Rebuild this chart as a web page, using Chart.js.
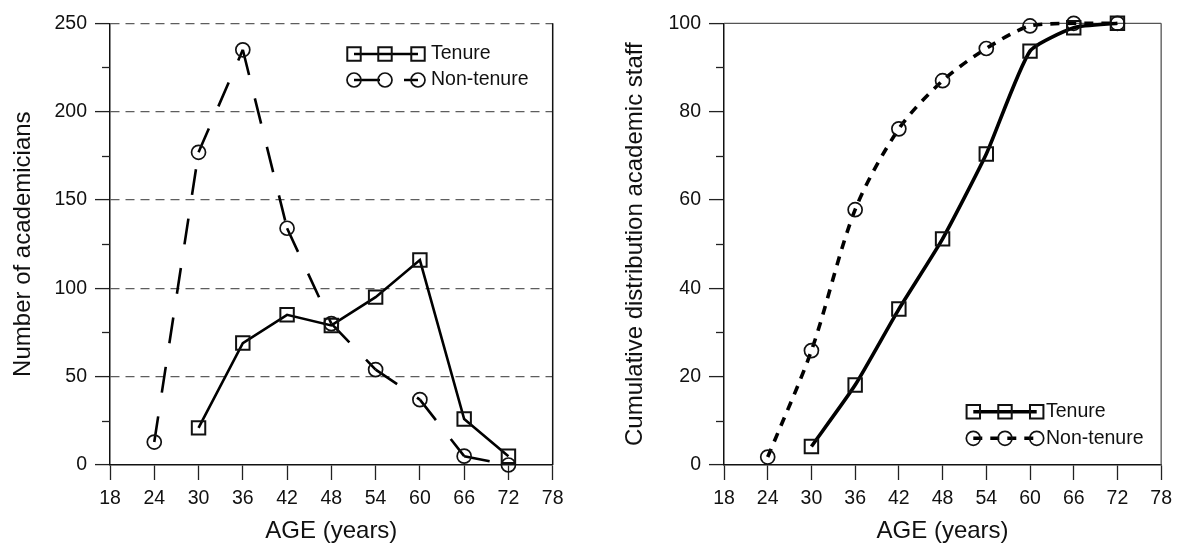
<!DOCTYPE html>
<html>
<head>
<meta charset="utf-8">
<script src="https://cdn.jsdelivr.net/npm/chart.js@4/dist/chart.umd.min.js"></script>
<style>
  html, body { margin: 0; padding: 0; background: #fff; }
  #wrap { position: relative; width: 1179px; height: 550px; }
  .panel { position: absolute; top: 0; height: 550px; }
  #left { left: 0; width: 590px; }
  #right { left: 590px; width: 589px; }
</style>
</head>
<body>
<div id="wrap">
  <div class="panel" id="left"><canvas id="countChart"></canvas></div>
  <div class="panel" id="right"><canvas id="cumChart"></canvas></div>
</div>
<script>
// Age groups (years)
const nonTenureAges = [24, 30, 36, 42, 48, 54, 60, 66, 72];
const tenureAges = [30, 36, 42, 48, 54, 60, 66, 72];

// Number of academicians per age group
const tenureCount = [21, 69, 85, 79, 95, 116, 26, 5];
const nonTenureCount = [13, 177, 235, 134, 80, 54, 37, 5, 0];

// Cumulative distribution (%)
const tenureCumulative = [4.2, 18.1, 35.3, 51.2, 70.4, 93.7, 99, 100];
const nonTenureCumulative = [1.8, 25.9, 57.8, 76.1, 87, 94.3, 99.4, 100, 100];

const seriesNames = ['Tenure', 'Non-tenure'];
const ageAxis = { min: 18, max: 78, step: 6 };
const countAxis = { min: 0, max: 250, major: 50, minor: 25 };
const cumAxis = { min: 0, max: 100, major: 20, minor: 10 };

const FONT = '"Liberation Sans", Arial, Helvetica, sans-serif';
const INK = '#111';

function points(xs, ys) {
  return xs.map((x, i) => ({ x: x, y: ys[i] }));
}

// Short tick marks between the labelled ones on the value axis
const minorTicksPlugin = {
  id: 'minorTicks',
  afterDraw(chart, args, opts) {
    if (!opts || !opts.step) return;
    const scale = chart.scales.y;
    const ctx = chart.ctx;
    const x0 = chart.chartArea.left;
    ctx.save();
    ctx.strokeStyle = opts.color;
    ctx.lineWidth = opts.width;
    for (let v = scale.min + opts.step; v < scale.max; v += opts.step) {
      if (Math.abs(v % opts.major) < 1e-9) continue;
      const y = Math.round(scale.getPixelForValue(v)) + 0.5;
      ctx.beginPath();
      ctx.moveTo(x0 - opts.length, y);
      ctx.lineTo(x0, y);
      ctx.stroke();
    }
    ctx.restore();
  }
};

// Plot frame on the sides that carry no axis
const framePlugin = {
  id: 'frame',
  beforeDatasetsDraw(chart, args, opts) {
    if (!opts || !opts.sides) return;
    const a = chart.chartArea;
    const ctx = chart.ctx;
    ctx.save();
    ctx.strokeStyle = opts.color;
    ctx.lineWidth = opts.width;
    ctx.beginPath();
    if (opts.sides.includes('right')) { ctx.moveTo(a.right, a.top); ctx.lineTo(a.right, a.bottom); }
    if (opts.sides.includes('top')) { ctx.moveTo(a.left, a.top); ctx.lineTo(a.right, a.top); }
    ctx.stroke();
    ctx.restore();
  }
};

function drawMarker(ctx, style, r, x, y) {
  ctx.beginPath();
  if (style === 'rect') {
    const s = r * Math.SQRT1_2;
    ctx.rect(x - s, y - s, 2 * s, 2 * s);
  } else {
    ctx.arc(x, y, r, 0, Math.PI * 2);
  }
  ctx.stroke();
}

// Legend: a line sample with three markers per series, followed by its name
const sampleLegendPlugin = {
  id: 'sampleLegend',
  afterDraw(chart, args, opts) {
    if (!opts || !opts.rows) return;
    const ctx = chart.ctx;
    ctx.save();
    chart.data.datasets.forEach((ds, i) => {
      const y = opts.rows[i];
      const xs = opts.markers;
      ctx.strokeStyle = ds.borderColor;
      ctx.lineWidth = ds.borderWidth;
      ctx.setLineDash(ds.borderDash || []);
      ctx.beginPath();
      ctx.moveTo(xs[0], y);
      ctx.lineTo(xs[xs.length - 1], y);
      ctx.stroke();
      ctx.setLineDash([]);
      ctx.strokeStyle = ds.pointBorderColor;
      ctx.lineWidth = ds.pointBorderWidth;
      xs.forEach(x => drawMarker(ctx, ds.pointStyle, ds.pointRadius, x, y));
      ctx.fillStyle = INK;
      ctx.font = opts.fontSize + 'px ' + FONT;
      ctx.textBaseline = 'middle';
      ctx.textAlign = 'left';
      ctx.fillText(ds.label, opts.textX, y);
    });
    ctx.restore();
  }
};

function ageScale() {
  return {
    type: 'linear',
    min: ageAxis.min,
    max: ageAxis.max,
    ticks: {
      stepSize: ageAxis.step, autoSkip: false, maxRotation: 0, padding: 7,
      color: INK, font: { family: FONT, size: 19.5 }
    },
    grid: { drawOnChartArea: false, drawTicks: true, tickLength: 15, tickColor: '#222', tickWidth: 1.3 },
    border: { display: true, color: INK, width: 1.5 },
    title: {
      display: true, text: 'AGE (years)', color: INK,
      font: { family: FONT, size: 24 }, padding: { top: 0, bottom: 4 }
    },
    afterFit(scale) { scale.height = 85; }
  };
}

function valueScale(axis, title, titlePad, width, dashedGrid) {
  return {
    type: 'linear',
    min: axis.min,
    max: axis.max,
    ticks: {
      stepSize: axis.major, padding: 8,
      color: INK, font: { family: FONT, size: 19.5 }
    },
    grid: {
      drawOnChartArea: dashedGrid,
      color: ctx => (ctx.tick && ctx.tick.value === 0) ? 'rgba(0,0,0,0)' : '#5e5e5e',
      lineWidth: 1.2,
      drawTicks: true, tickLength: 15, tickColor: '#222', tickWidth: 1.3
    },
    border: { display: true, color: INK, width: 1.5, dash: dashedGrid ? [9, 6] : [] },
    title: {
      display: true, text: title, color: INK,
      font: { family: FONT, size: 24 }, padding: { top: titlePad, bottom: 0 }
    },
    afterFit(scale) { scale.width = width; }
  };
}

function baseOptions(padding) {
  return {
    responsive: true,
    maintainAspectRatio: false,
    animation: false,
    layout: { padding: padding },
    plugins: { legend: { display: false }, tooltip: { enabled: false } }
  };
}

// Left panel: head count per age group
const countOptions = baseOptions({ top: 23.3, right: 37.3, left: 0, bottom: 0 });
countOptions.scales = {
  x: ageScale(),
  y: valueScale(countAxis, 'Number of academicians', 9, 110, true)
};
countOptions.plugins.minorTicks = { step: countAxis.minor, major: countAxis.major, length: 8, color: '#222', width: 1.3 };
countOptions.plugins.frame = { sides: ['right'], color: INK, width: 1.5 };
countOptions.plugins.sampleLegend = { markers: [354, 385, 418], rows: [54, 80], textX: 431, fontSize: 19.5 };

new Chart(document.getElementById('countChart'), {
  type: 'line',
  data: {
    datasets: [
      {
        label: seriesNames[0],
        data: points(tenureAges, tenureCount),
        borderColor: '#000', borderWidth: 2.6, tension: 0,
        pointStyle: 'rect', pointRadius: 9.5, pointBorderWidth: 2,
        pointBorderColor: INK, pointBackgroundColor: 'rgba(0,0,0,0)',
        clip: false
      },
      {
        label: seriesNames[1],
        data: points(nonTenureAges, nonTenureCount),
        borderColor: '#000', borderWidth: 2.6, tension: 0,
        borderDash: [26, 24],
        // a distinct offset per segment keeps each segment its own stroke,
        // so the dash pattern starts afresh at every point
        segment: { borderDashOffset: c => c.p0DataIndex * 0.001 },
        pointStyle: 'circle', pointRadius: 7, pointBorderWidth: 1.7,
        pointBorderColor: INK, pointBackgroundColor: 'rgba(0,0,0,0)',
        clip: false
      }
    ]
  },
  options: countOptions,
  plugins: [minorTicksPlugin, framePlugin, sampleLegendPlugin]
});

// Right panel: cumulative distribution
const cumOptions = baseOptions({ top: 23.3, right: 12, left: 0, bottom: 0 });
cumOptions.scales = {
  x: ageScale(),
  y: valueScale(cumAxis, 'Cumulative distribution academic staff', 30.5, 134, false)
};
cumOptions.plugins.minorTicks = { step: cumAxis.minor, major: cumAxis.major, length: 8, color: '#222', width: 1.3 };
cumOptions.plugins.frame = { sides: ['right', 'top'], color: '#555', width: 1.3 };
cumOptions.plugins.sampleLegend = { markers: [383.3, 415, 446.7], rows: [411.7, 438.3], textX: 456, fontSize: 19.5 };

new Chart(document.getElementById('cumChart'), {
  type: 'line',
  data: {
    datasets: [
      {
        label: seriesNames[0],
        data: points(tenureAges, tenureCumulative),
        borderColor: '#000', borderWidth: 3.6, tension: 0.18,
        pointStyle: 'rect', pointRadius: 9.5, pointBorderWidth: 2,
        pointBorderColor: INK, pointBackgroundColor: 'rgba(0,0,0,0)',
        clip: false
      },
      {
        label: seriesNames[1],
        data: points(nonTenureAges, nonTenureCumulative),
        borderColor: '#000', borderWidth: 3.6, tension: 0.3,
        borderDash: [9, 8],
        pointStyle: 'circle', pointRadius: 7, pointBorderWidth: 1.7,
        pointBorderColor: INK, pointBackgroundColor: 'rgba(0,0,0,0)',
        clip: false
      }
    ]
  },
  options: cumOptions,
  plugins: [minorTicksPlugin, framePlugin, sampleLegendPlugin]
});
</script>
</body>
</html>
